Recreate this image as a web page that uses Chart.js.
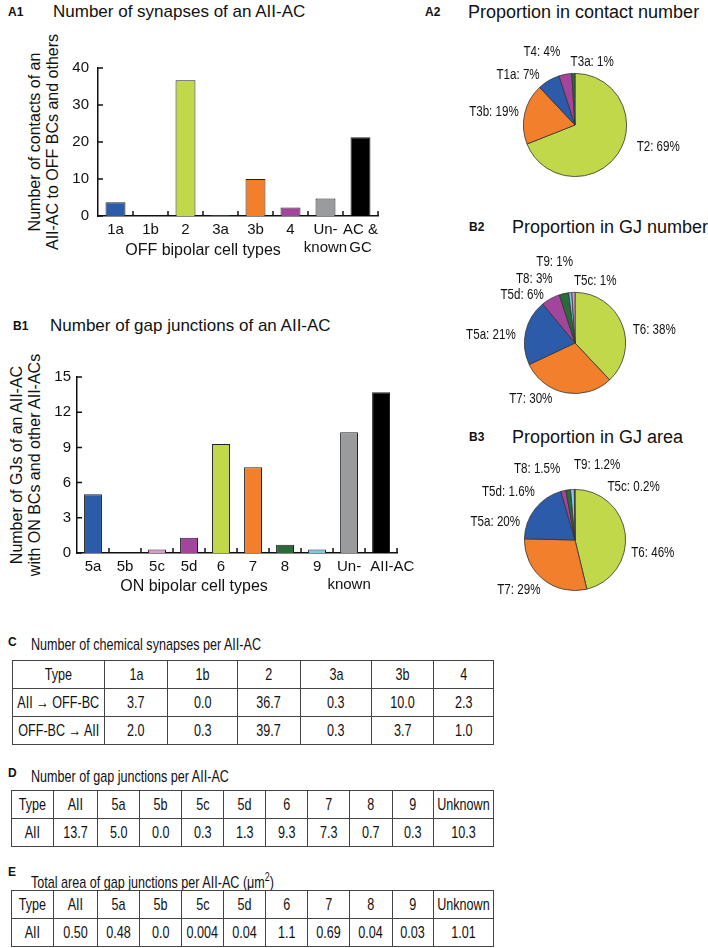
<!DOCTYPE html>
<html lang="en">
<head>
<meta charset="UTF-8">
<title>AII-AC synapses and gap junctions</title>
<script src="https://cdn.jsdelivr.net/npm/chart.js"></script>
<style>
    body {
        margin: 0;
        width: 708px;
        height: 948px;
        position: relative;
        overflow: hidden;
        background: #fff;
        color: #111;
        font-family: "Liberation Sans", Arial, sans-serif;
    }
    .box { position: absolute; }
    .tag { position: absolute; font-weight: bold; font-size: 12px; line-height: 14px; }
    .ttl { position: absolute; font-size: 17px; line-height: 20px; white-space: nowrap; }
    .axt { position: absolute; font-size: 16px; line-height: 18px; white-space: nowrap; transform: translateX(-50%); }
    .ytl {
        position: absolute; font-size: 16px; line-height: 18px; text-align: center; white-space: nowrap;
        transform: translate(-50%, -50%) rotate(-90deg);
    }
    .narrow { transform: scaleX(0.74); transform-origin: left center; }
    table {
        position: absolute;
        border-collapse: collapse;
        table-layout: fixed;
        font-size: 17px;
    }
    td { border: 1px solid #444; text-align: center; padding: 0; height: 27px; white-space: nowrap; }
    td span { display: inline-block; margin: 0 -30px; transform: scaleX(0.74); }
</style>
</head>
<body>

<!-- A1 -->
<div class="tag" style="left:8px;top:5px">A1</div>
<div class="ttl" style="left:53px;top:2px">Number of synapses of an AII-AC</div>
<div class="ytl" style="left:44px;top:142px">Number of contacts of an<br>AII-AC to OFF BCs and others</div>
<div class="box" style="left:0;top:40px;width:390px;height:230px"><canvas id="a1"></canvas></div>
<div class="axt" style="left:203px;top:241px">OFF bipolar cell types</div>

<!-- A2 -->
<div class="tag" style="left:425px;top:5px">A2</div>
<div class="ttl" style="left:468px;top:2px;font-size:18px">Proportion in contact number</div>
<div class="box" style="left:440px;top:40px;width:268px;height:160px"><canvas id="a2"></canvas></div>

<!-- B1 -->
<div class="tag" style="left:13px;top:319px">B1</div>
<div class="ttl" style="left:50px;top:316px">Number of gap junctions of an AII-AC</div>
<div class="ytl" style="left:26px;top:465px">Number of GJs of an AII-AC<br>with ON BCs and other AII-ACs</div>
<div class="box" style="left:0;top:360px;width:420px;height:233px"><canvas id="b1"></canvas></div>
<div class="axt" style="left:194px;top:577px">ON bipolar cell types</div>

<!-- B2 -->
<div class="tag" style="left:469px;top:220px">B2</div>
<div class="ttl" style="left:512px;top:217px;font-size:18px">Proportion in GJ number</div>
<div class="box" style="left:440px;top:250px;width:268px;height:170px"><canvas id="b2"></canvas></div>

<!-- B3 -->
<div class="tag" style="left:469px;top:430px">B3</div>
<div class="ttl" style="left:512px;top:427px;font-size:18px">Proportion in GJ area</div>
<div class="box" style="left:440px;top:450px;width:268px;height:160px"><canvas id="b3"></canvas></div>

<!-- C -->
<div class="tag" style="left:8px;top:635px">C</div>
<div class="ttl narrow" style="left:31px;top:635px">Number of chemical synapses per AII-AC</div>
<table id="tc" style="left:12px;top:660px;width:481px"></table>

<!-- D -->
<div class="tag" style="left:8px;top:766px">D</div>
<div class="ttl narrow" style="left:31px;top:767px">Number of gap junctions per AII-AC</div>
<table id="td" style="left:11px;top:790px;width:482px"></table>

<!-- E -->
<div class="tag" style="left:8px;top:865px">E</div>
<div class="ttl narrow" style="left:31px;top:867px">Total area of gap junctions per AII-AC (&mu;m<sup style="font-size:12px">2</sup>)</div>
<table id="te" style="left:11px;top:890px;width:482px"></table>

<script>
    // A1 - contacts with OFF bipolar cells
    const offTypes = ['1a', '1b', '2', '3a', '3b', '4', ['Un-', 'known'], ['AC &', 'GC']];
    const offContacts = [3.7, 0, 36.7, 0.3, 10.0, 2.3, 4.7, 21.3];

    // B1 - gap junctions with ON bipolar cells
    const onTypes = ['5a', '5b', '5c', '5d', '6', '7', '8', '9', ['Un-', 'known'], 'AII-AC'];
    const onGJs = [5.0, 0, 0.3, 1.3, 9.3, 7.3, 0.7, 0.3, 10.3, 13.7];

    // pies (percent)
    const contactTypes = ['T2', 'T3b', 'T1a', 'T4', 'T3a'];
    const contactPct = [69, 19, 7, 4, 1];
    const gjNumTypes = ['T6', 'T7', 'T5a', 'T5d', 'T8', 'T9', 'T5c'];
    const gjNumPct = [38, 30, 21, 6, 3, 1, 1];
    const gjAreaTypes = ['T6', 'T7', 'T5a', 'T5d', 'T8', 'T9', 'T5c'];
    const gjAreaPct = [46, 29, 20, 1.6, 1.5, 1.2, 0.2];

    // tables
    const chemTypes = ['1a', '1b', '2', '3a', '3b', '4'];
    const chemAIItoOFF = ['3.7', '0.0', '36.7', '0.3', '10.0', '2.3'];
    const chemOFFtoAII = ['2.0', '0.3', '39.7', '0.3', '3.7', '1.0'];
    const gjTypes = ['AII', '5a', '5b', '5c', '5d', '6', '7', '8', '9', 'Unknown'];
    const gjCounts = ['13.7', '5.0', '0.0', '0.3', '1.3', '9.3', '7.3', '0.7', '0.3', '10.3'];
    const gjAreas = ['0.50', '0.48', '0.0', '0.004', '0.04', '1.1', '0.69', '0.04', '0.03', '1.01'];

    const C = {
        blue: '#2c5ba9', green: '#c0d84a', dkgreen: '#2b6a3b', orange: '#f27f2c',
        purple: '#a3459d', gray: '#9a9b9d', black: '#000000', pink: '#d99bcf', ltblue: '#7dc8ea'
    };
    const offColors = [C.blue, C.blue, C.green, C.dkgreen, C.orange, C.purple, C.gray, C.black];
    const onColors = [C.blue, C.blue, C.pink, C.purple, C.green, C.orange, C.dkgreen, C.ltblue, C.gray, C.black];

    Chart.defaults.font.family = '"Liberation Sans", Arial, sans-serif';
    Chart.defaults.color = '#111';

    // tick marks pointing into the plot
    const inwardTicks = {
        id: 'inwardTicks',
        afterDraw(chart) {
            const { ctx, chartArea: a, scales: { x, y } } = chart;
            ctx.save();
            ctx.strokeStyle = '#111';
            ctx.lineWidth = 1.5;
            ctx.beginPath();
            y.ticks.forEach((t, i) => {
                const py = y.getPixelForTick(i);
                ctx.moveTo(a.left, py);
                ctx.lineTo(a.left + 5, py);
            });
            for (let i = 0; i < x.ticks.length; i++) {
                const px = x.getPixelForValue(i + 0.5);
                ctx.moveTo(px, a.bottom);
                ctx.lineTo(px, a.bottom - 5);
            }
            ctx.stroke();
            ctx.restore();
        }
    };

    function barChart(id, labels, values, colors, o) {
        new Chart(document.getElementById(id), {
            type: 'bar',
            data: {
                labels: labels,
                datasets: [{
                    data: values,
                    backgroundColor: colors,
                    borderColor: '#222',
                    borderWidth: 1,
                    barPercentage: o.barPct,
                    categoryPercentage: 1
                }]
            },
            options: {
                responsive: true,
                maintainAspectRatio: false,
                animation: false,
                layout: { padding: { top: o.pt, right: o.pr, left: 0, bottom: 0 } },
                plugins: { legend: { display: false }, tooltip: { enabled: false } },
                scales: {
                    x: {
                        grid: { display: false, drawTicks: false },
                        border: { color: '#111', width: 1.5 },
                        ticks: {
                            font: { size: 15 }, padding: 5, maxRotation: 0, autoSkip: false,
                            // last label sits a little right of its bar, as in the figure
                            callback: function (v, i, t) {
                                const l = this.getLabelForValue(v);
                                return (o.padLast && i === t.length - 1) ? '\u2002\u2002\u2002' + l : l;
                            }
                        },
                        afterFit: s => { s.height = o.xh; }
                    },
                    y: {
                        min: 0,
                        max: o.max,
                        grid: { display: false, drawTicks: false },
                        border: { color: '#111', width: 1.5 },
                        ticks: {
                            stepSize: o.step,
                            font: { size: 15 },
                            padding: o.tp,
                            callback: v => (v % o.labelStep === 0 ? v : '')
                        },
                        afterFit: s => { s.width = o.yw; }
                    }
                }
            },
            plugins: [inwardTicks]
        });
    }

    barChart('a1', offTypes, offContacts, offColors, {
        barPct: 0.57, pt: 28, pr: 12, xh: 54, yw: 98, max: 40, step: 5, labelStep: 10, tp: 9
    });
    barChart('b1', onTypes, onGJs, onColors, {
        barPct: 0.56, pt: 17, pr: 12, xh: 40, yw: 77, max: 15, step: 3, labelStep: 3, tp: 6, padLast: true
    });

    // labels outside the pie slices (condensed text)
    const pieLabels = {
        id: 'pieLabels',
        afterDraw(chart, args, opts) {
            const ctx = chart.ctx;
            const meta = chart.getDatasetMeta(0);
            meta.data.forEach((arc, i) => {
                const p = arc.getProps(['x', 'y', 'startAngle', 'endAngle', 'outerRadius'], true);
                const mid = (p.startAngle + p.endAngle) / 2;
                const c = Math.cos(mid), s = Math.sin(mid);
                const r = p.outerRadius + 6;
                const n = opts.nudge[i];
                const txt = chart.data.labels[i] + ': ' + chart.data.datasets[0].data[i] + '%';
                ctx.save();
                ctx.font = '14.5px "Liberation Sans", Arial, sans-serif';
                ctx.fillStyle = '#111';
                ctx.textBaseline = 'middle';
                ctx.textAlign = c > 0.1 ? 'left' : (c < -0.1 ? 'right' : 'center');
                ctx.translate(p.x + r * c + n[0], p.y + r * s + n[1]);
                ctx.scale(0.8, 1);
                ctx.fillText(txt, 0, 0);
                ctx.restore();
            });
        }
    };

    function pieChart(id, labels, values, colors, pad, nudge) {
        new Chart(document.getElementById(id), {
            type: 'pie',
            data: {
                labels: labels,
                datasets: [{ data: values, backgroundColor: colors, borderColor: '#333', borderWidth: 0.8 }]
            },
            options: {
                responsive: true,
                maintainAspectRatio: false,
                animation: false,
                layout: { padding: pad },
                plugins: { legend: { display: false }, tooltip: { enabled: false }, pieLabels: { nudge: nudge } }
            },
            plugins: [pieLabels]
        });
    }

    pieChart('a2', contactTypes, contactPct, [C.green, C.orange, C.blue, C.purple, C.dkgreen],
        { left: 83, right: 81, top: 33, bottom: 23 },
        [[14, -10], [0, 0], [-6, 0], [-4, -16], [19, -5]]);
    pieChart('b2', gjNumTypes, gjNumPct, [C.green, C.orange, C.blue, C.purple, C.dkgreen, C.ltblue, C.pink],
        { left: 84, right: 82, top: 42, bottom: 26 },
        [[5, 8], [-12, 0], [-4, 4], [-4, 2], [-10, -9], [-15, -25], [22, -5]]);
    pieChart('b3', gjAreaTypes, gjAreaPct, [C.green, C.orange, C.blue, C.purple, C.dkgreen, C.ltblue, C.pink],
        { left: 84, right: 82, top: 39, bottom: 19 },
        [[0, 20], [1, 6], [-10, 16], [-27, 7], [-7, -15], [25, -18], [59, 4]]);

    // tables
    function fillTable(id, widths, rows) {
        const t = document.getElementById(id);
        const cg = document.createElement('colgroup');
        widths.forEach(w => {
            const col = document.createElement('col');
            col.style.width = w + 'px';
            cg.appendChild(col);
        });
        t.appendChild(cg);
        rows.forEach(r => {
            const tr = document.createElement('tr');
            r.forEach(v => {
                const td = document.createElement('td');
                const sp = document.createElement('span');
                sp.textContent = v;
                td.appendChild(sp);
                tr.appendChild(td);
            });
            t.appendChild(tr);
        });
    }
    fillTable('tc', [92, 63, 70, 63, 71, 62, 60], [
        ['Type'].concat(chemTypes),
        ['AII \u2192 OFF-BC'].concat(chemAIItoOFF),
        ['OFF-BC \u2192 AII'].concat(chemOFFtoAII)
    ]);
    const gjWidths = [42, 44, 42, 42, 42, 42, 42, 42, 43, 41, 60];
    fillTable('td', gjWidths, [['Type'].concat(gjTypes), ['AII'].concat(gjCounts)]);
    fillTable('te', gjWidths, [['Type'].concat(gjTypes), ['AII'].concat(gjAreas)]);
</script>
</body>
</html>
